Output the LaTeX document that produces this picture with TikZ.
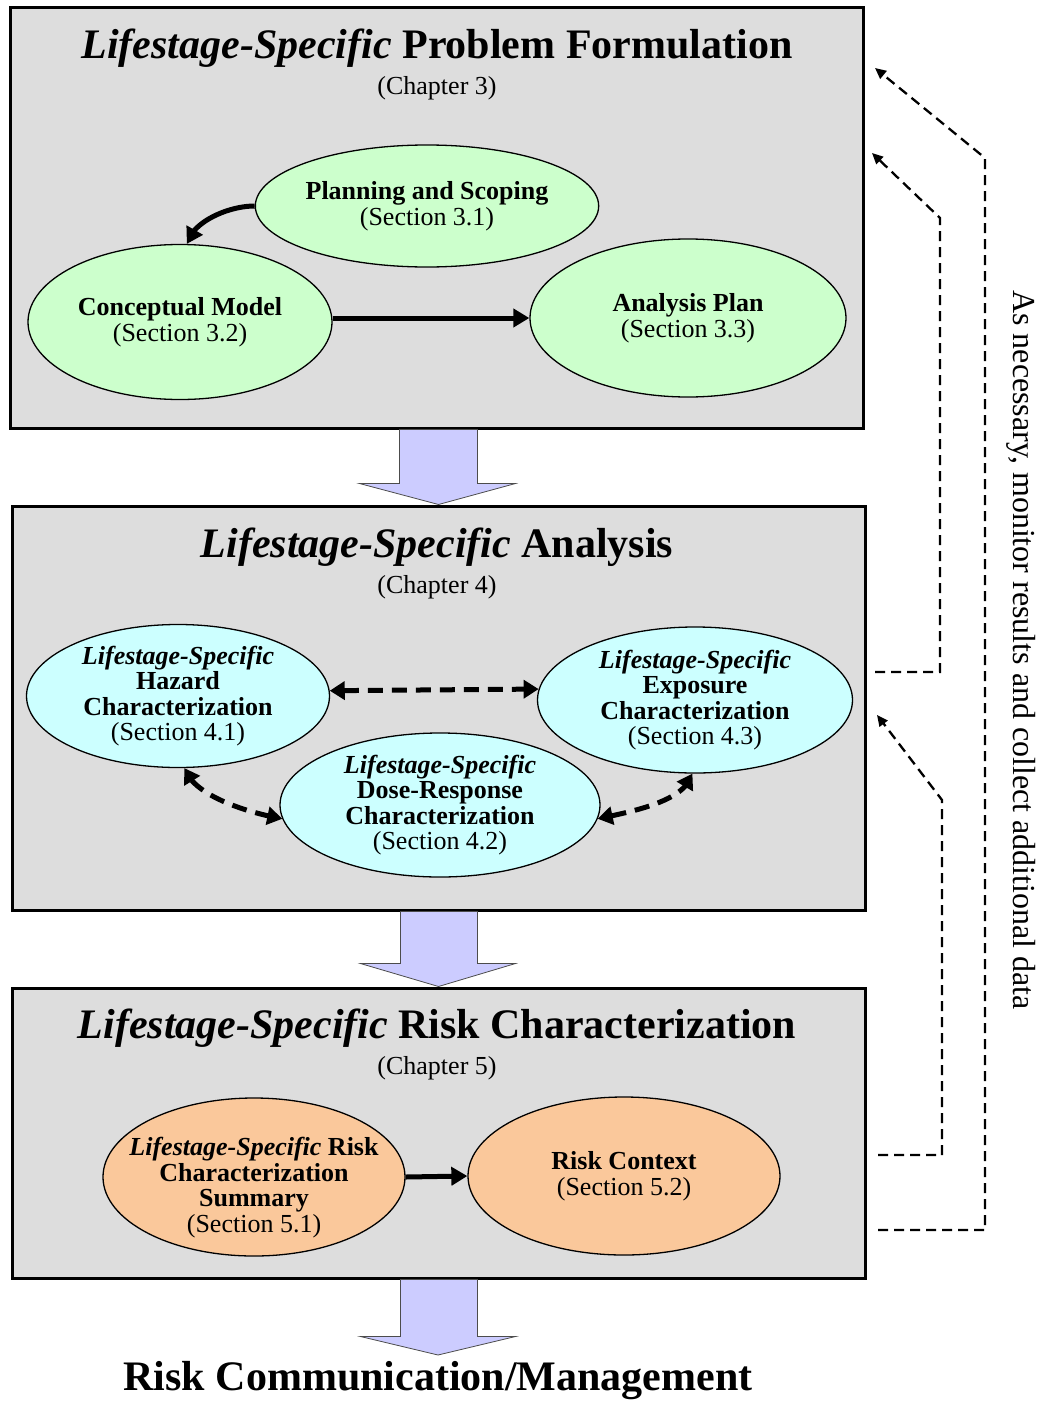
\documentclass[tikz,border=0pt]{standalone}
\usepackage{fontspec}
\setmainfont{Liberation Serif}
\usetikzlibrary{shapes.geometric,arrows.meta,calc,bending}
\definecolor{boxgray}{RGB}{221,221,221}
\definecolor{pgreen}{RGB}{204,255,204}
\definecolor{pcyan}{RGB}{204,255,255}
\definecolor{porange}{RGB}{250,200,155}
\definecolor{lav}{RGB}{204,204,255}
\begin{document}
\begin{tikzpicture}[x=1pt,y=-1pt,
  box/.style={draw, line width=3pt, fill=boxgray, inner sep=0pt},
  ell/.style={ellipse, draw, line width=1.3pt, inner sep=0pt, align=center,
    font=\fontsize{26}{25.5}\selectfont\bfseries},
  title/.style={font=\fontsize{42}{48}\selectfont\bfseries},
  chap/.style={font=\fontsize{26}{30}\selectfont},
  solidarr/.style={line width=5pt, -{Triangle[length=16pt,width=18pt]}},
  dasharr/.style={line width=5pt, dash pattern=on 15pt off 9pt,
    {Triangle[length=15pt,width=18pt]}-{Triangle[length=15pt,width=18pt]}},
  fb/.style={line width=2.3pt, dash pattern=on 10pt off 6pt, -{Triangle[length=11pt,width=10pt]}},
  bigarr/.style={fill=lav, draw=black!70, line width=0.8pt}]
\useasboundingbox (0,0) rectangle (1039,1402);

% boxes
\node[box, minimum width=853, minimum height=420] (b1) at (436.5,218) {};
\node[box, minimum width=853, minimum height=404] (b2) at (438.5,708) {};
\node[box, minimum width=853, minimum height=290] (b3) at (438.5,1133) {};

% titles
\node[title] (t1) at (437,48) {\textit{Lifestage-Specific} Problem Formulation};
\node[chap] (c1) at (437,88) {(Chapter 3)};
\node[title] (t2) at (437,547) {\textit{Lifestage-Specific} Analysis};
\node[chap] (c2) at (437,587) {(Chapter 4)};
\node[title] (t3) at (437,1028) {\textit{Lifestage-Specific} Risk Characterization};
\node[chap] (c3) at (437,1068) {(Chapter 5)};

% ellipses box 1
\node[ell, fill=pgreen, minimum width=318, minimum height=122] (plan) at (427,206)
  {Planning and Scoping\\{\mdseries (Section 3.1)}};
\node[ell, fill=pgreen, minimum width=304, minimum height=155] (concept) at (180,322)
  {Conceptual Model\\{\mdseries (Section 3.2)}};
\node[ell, fill=pgreen, minimum width=316, minimum height=158] (aplan) at (688,318)
  {Analysis Plan\\{\mdseries (Section 3.3)}};

\draw[solidarr] (plan.west) .. controls (228,206) and (192,222) .. (concept.85);
\draw[solidarr] (concept.east |- aplan.west) -- (aplan.west);

% ellipses box 2
\node[ell, fill=pcyan, minimum width=303, minimum height=143] (haz) at (178,696)
  {\textit{Lifestage-Specific}\\Hazard\\Characterization\\{\mdseries (Section 4.1)}};
\node[ell, fill=pcyan, minimum width=315, minimum height=146] (expo) at (695,700)
  {\textit{Lifestage-Specific}\\Exposure\\Characterization\\{\mdseries (Section 4.3)}};
\node[ell, fill=pcyan, minimum width=320, minimum height=144] (dose) at (440,805)
  {\textit{Lifestage-Specific}\\Dose-Response\\Characterization\\{\mdseries (Section 4.2)}};

\draw[dasharr] (haz.2) -- (expo.176);
\draw[dasharr] (haz.275) .. controls (192,792) and (235,810) .. (dose.185);
\draw[dasharr] (dose.355) .. controls (640,810) and (685,800) .. (expo.268);

% ellipses box 3
\node[ell, fill=porange, minimum width=302, minimum height=158] (summ) at (254,1177)
  {\makebox[0pt]{\raisebox{-18pt}[0pt][0pt]{\begin{tabular}{@{}c@{}}\textit{Lifestage-Specific} Risk\\Characterization\\Summary\\{\mdseries (Section 5.1)}\end{tabular}}}};
\node[ell, fill=porange, minimum width=312, minimum height=158] (ctx) at (624,1176)
  {Risk Context\\{\mdseries (Section 5.2)}};
\draw[solidarr] (summ.east) -- (ctx.west);

% bottom text
\node[title] (rcm) at (438,1381) {Risk Communication/Management};
\coordinate (tip3) at (438,1355);

% big arrows
\draw[bigarr] ($(b1.south)+(-37,0)$) -- ($(b1.south)+(-37,54)$) -- ($(b1.south)+(-77,54)$)
  -- (b2.north) -- ($(b1.south)+(79,54)$) -- ($(b1.south)+(41,54)$) -- ($(b1.south)+(41,0)$) -- cycle;
\draw[bigarr] ($(b2.south)+(-38,0)$) -- ($(b2.south)+(-38,52)$) -- ($(b2.south)+(-78,52)$)
  -- (b3.north) -- ($(b2.south)+(77,52)$) -- ($(b2.south)+(39,52)$) -- ($(b2.south)+(39,0)$) -- cycle;
\draw[bigarr] ($(b3.south)+(-38,0)$) -- ($(b3.south)+(-38,57)$) -- ($(b3.south)+(-78,57)$)
  -- (tip3) -- ($(b3.south)+(77,57)$) -- ($(b3.south)+(39,57)$) -- ($(b3.south)+(39,0)$) -- cycle;

% feedback loops
\coordinate (o1) at (878,1230); \coordinate (o2) at (985,1230);
\coordinate (o3) at (985,158);  \coordinate (o4) at (875,68);
\coordinate (a1) at (875,672);  \coordinate (a2) at (940,672);
\coordinate (a3) at (940,218);  \coordinate (a4) at (872,153);
\coordinate (d1) at (878,1155); \coordinate (d2) at (942,1155);
\coordinate (d3) at (942,800);  \coordinate (d4) at (877,715);
\draw[fb] (o1) -- (o2) -- (o3) -- (o4);
\draw[fb] (a1) -- (a2) -- (a3) -- (a4);
\draw[fb] (d1) -- (d2) -- (d3) -- (d4);

\node[rotate=-90, font=\fontsize{32}{36}\selectfont] (side) at (1021,650)
  {As necessary, monitor results and collect additional data};
\end{tikzpicture}
\end{document}
